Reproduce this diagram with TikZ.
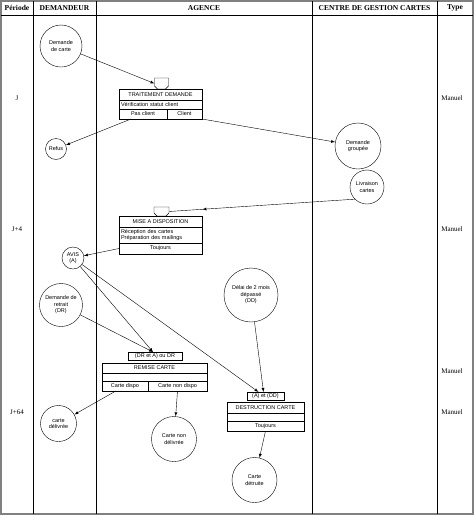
\documentclass[tikz,border=0pt]{standalone}
\usepackage{fontspec}
\setmainfont{Liberation Serif}
\newfontfamily\arialfont{Liberation Sans}
\usetikzlibrary{positioning, calc, arrows, decorations.markings}

\begin{document}
\begin{tikzpicture}[x=1pt, y=-1pt, >=latex,
    etat/.style={circle, draw, align=center, inner sep=0pt, font=\arialfont\fontsize{5.5}{6.5}\selectfont},
    case/.style={draw, rectangle, inner sep=0pt, outer sep=0pt, font=\arialfont\fontsize{5.5}{6.5}\selectfont},
    corps/.style={case, inner xsep=2pt, align=left},
    onglet/.style={rectangle, inner sep=0pt, outer sep=0pt},
    entete/.style={font=\bfseries\fontsize{7.5}{9}\selectfont},
    periode/.style={font=\fontsize{7}{8}\selectfont},
    fleche/.style={->},
    flechemilieu/.style={decoration={markings, mark=at position 0.82 with {\arrow{latex}}}, postaction={decorate}}
  ]
  \useasboundingbox (0,0) rectangle (474,515);
  % grille
  \draw[gray, line width=2pt] (1,1) rectangle (473,514);
  \draw (1,15) -- (473,15);
  \foreach \x in {33, 96, 312, 437}
    \draw (\x,1) -- (\x,514);
  % entetes
  \node[entete] (hd-periode) at (17,8) {Période};
  \node[entete] (hd-demandeur) at (64.5,8) {DEMANDEUR};
  \node[entete] (hd-agence) at (204,8) {AGENCE};
  \node[entete] (hd-centre) at (374.5,8) {CENTRE DE GESTION CARTES};
  \node[entete] (hd-type) at (455,8) {Type};
  % periodes et types
  \node[periode] (p-j)    at (17,98)  {J};
  \node[periode] (p-j4)   at (17,229) {J+4};
  \node[periode] (p-j64)  at (17,412) {J+64};
  \node[periode] (t-1) at (452,98)  {Manuel};
  \node[periode] (t-2) at (452,229) {Manuel};
  \node[periode] (t-3) at (452,371) {Manuel};
  \node[periode] (t-4) at (452,412) {Manuel};

  % traitement demande
  \node[onglet, minimum width=14pt, minimum height=11pt] (trait-onglet) at (161.5,83.5) {};
  \node[case, anchor=north west, minimum width=83pt, minimum height=11pt] (trait-titre) at (119,89) {TRAITEMENT DEMANDE};
  \node[corps, below=0pt of trait-titre, text width=79pt, minimum height=9pt] (trait-corps) {Vérification statut client};
  \node[case, anchor=north west, minimum width=48pt, minimum height=10pt] (trait-pas) at (trait-corps.south west) {Pas client};
  \node[case, anchor=north east, minimum width=35pt, minimum height=10pt] (trait-client) at (trait-corps.south east) {Client};

  % mise a disposition
  \node[onglet, minimum width=15pt, minimum height=9pt] (mise-onglet) at (161.5,211.5) {};
  \node[case, anchor=north west, minimum width=83pt, minimum height=11pt] (mise-titre) at (119,216) {MISE A DISPOSITION};
  \node[corps, below=0pt of mise-titre, text width=79pt, minimum height=16pt] (mise-corps) {Réception des cartes\\Préparation des mailings};
  \node[case, below=0pt of mise-corps, minimum width=83pt, minimum height=11pt] (mise-toujours) {Toujours};

  % onglets
  \foreach \o in {trait-onglet, mise-onglet}
    \draw (\o.north west) -- (\o.north east) -- ([yshift=3pt]\o.south east)
      -- ([xshift=-3pt]\o.south east) -- ([xshift=3pt]\o.south west)
      -- ([yshift=3pt]\o.south west) -- cycle;

  % remise carte
  \node[case, minimum width=54pt, minimum height=8pt] (remise-cond) at (155,356) {(DR et A) ou DR};
  \node[case, anchor=north west, minimum width=105pt, minimum height=10pt] (remise-titre) at (102,363) {REMISE CARTE};
  \node[case, below=0pt of remise-titre, minimum width=105pt, minimum height=8pt] (remise-corps) {};
  \node[case, anchor=north west, minimum width=46pt, minimum height=10pt] (remise-dispo) at (remise-corps.south west) {Carte dispo};
  \node[case, anchor=north east, minimum width=59pt, minimum height=10pt] (remise-nondispo) at (remise-corps.south east) {Carte non dispo};

  % destruction carte
  \node[case, minimum width=37pt, minimum height=8pt] (destr-cond) at (265.5,396) {(A) et (DD)};
  \node[case, anchor=north west, minimum width=77pt, minimum height=11pt] (destr-titre) at (227,402) {DESTRUCTION CARTE};
  \node[case, below=0pt of destr-titre, minimum width=77pt, minimum height=8pt] (destr-corps) {};
  \node[case, below=0pt of destr-corps, minimum width=77pt, minimum height=10pt] (destr-toujours) {Toujours};

  % etats
  \node[etat, minimum size=42pt] (dem-carte) at (61,46) {Demande\\de carte};
  \node[etat, minimum size=21pt] (refus) at (56,149) {Refus};
  \node[etat, minimum size=46pt] (dem-groupee) at (358,146) {Demande\\groupée};
  \node[etat, minimum size=34pt] (livraison) at (367,187) {Livraison\\cartes};
  \node[etat, minimum size=22pt] (avis) at (73,258) {AVIS\\(A)};
  \node[etat, minimum size=43pt] (dem-retrait) at (61,305) {Demande de\\retrait\\(DR)};
  \node[etat, minimum size=54pt] (delai) at (251,295) {Délai de 2 mois\\dépassé\\(DD)};
  \node[etat, minimum size=36pt] (carte-delivree) at (58.5,423.5) {carte\\délivrée};
  \node[etat, minimum size=45pt] (carte-non-delivree) at (174,439) {Carte non\\délivrée};
  \node[etat, minimum size=45pt] (carte-detruite) at (254.5,480) {Carte\\détruite};

  % fleches
  \draw[fleche] (dem-carte) -- (trait-onglet.west);
  \draw[fleche] ($(trait-pas.south west)!0.25!(trait-pas.south east)$) -- (refus);
  \draw[fleche] (trait-client.south east) -- (dem-groupee);
  \draw[flechemilieu] (livraison.south west) -- (mise-onglet.east);
  \draw[fleche] (mise-toujours.west) -- (avis);
  \draw[fleche] (avis) -- ([xshift=-2pt]remise-cond.north);
  \draw[fleche] (dem-retrait) -- ([xshift=-2pt]remise-cond.north);
  \draw[fleche] (avis) -- ([xshift=-7pt]destr-cond.north);
  \draw[fleche] (delai) -- ([xshift=-2pt]destr-cond.north);
  \draw[fleche] ($(remise-dispo.south west)!0.3!(remise-dispo.south east)$) -- (carte-delivree);
  \draw[fleche] (remise-nondispo.south) -- (carte-non-delivree);
  \draw[fleche] (destr-toujours.south) -- (carte-detruite);
\end{tikzpicture}
\end{document}
